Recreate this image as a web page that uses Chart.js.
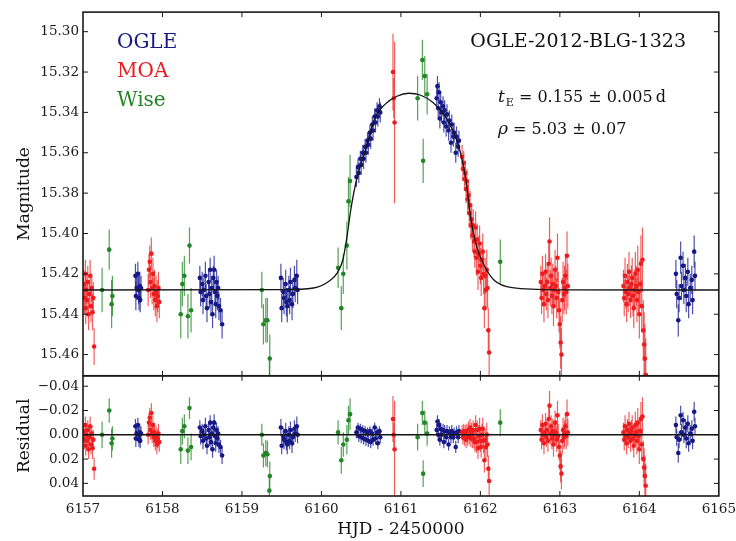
<!DOCTYPE html>
<html>
<head>
<meta charset="utf-8">
<script src="https://cdn.jsdelivr.net/npm/chart.js@4.4.0/dist/chart.umd.min.js"></script>
<style>
  html, body { margin: 0; padding: 0; background: #fff; overflow: hidden; }
  canvas { display: block; }
</style>
</head>
<body>
<canvas id="lc" width="741" height="541" style="width:741px;height:541px"></canvas>
<script>
"use strict";

// OGLE photometry (HJD-2450000, magnitude, error, residual)
const ogleT = [
  6157.66, 6157.665, 6157.675, 6157.69, 6157.70, 6157.705, 6157.715, 6157.72, 6157.73,
  6158.47, 6158.48, 6158.50, 6158.51, 6158.52, 6158.54, 6158.55, 6158.56, 6158.58, 6158.59, 6158.60, 6158.61,
  6158.62, 6158.63, 6158.64, 6158.65, 6158.66, 6158.67, 6158.68, 6158.69, 6158.70, 6158.71, 6158.73, 6158.75,
  6159.49, 6159.50, 6159.52, 6159.53, 6159.55, 6159.56, 6159.57, 6159.59, 6159.60, 6159.61, 6159.63, 6159.64,
  6159.66, 6159.67, 6159.69, 6159.70,
  6160.44, 6160.46, 6160.47, 6160.49, 6160.50, 6160.52, 6160.53, 6160.55, 6160.56, 6160.58, 6160.59, 6160.61,
  6160.62, 6160.64, 6160.65, 6160.67, 6160.68, 6160.70, 6160.71, 6160.73, 6160.74,
  6161.45, 6161.46, 6161.47, 6161.48, 6161.49, 6161.50, 6161.51, 6161.53, 6161.54, 6161.55, 6161.57, 6161.58,
  6161.60, 6161.61, 6161.63, 6161.64, 6161.66, 6161.67, 6161.69, 6161.70, 6161.72, 6161.73,
  6164.46, 6164.47, 6164.49, 6164.50, 6164.52, 6164.53, 6164.55, 6164.56, 6164.58, 6164.59, 6164.61, 6164.62,
  6164.64, 6164.66, 6164.67, 6164.69, 6164.70
];
const ogleMag = [
  15.421, 15.431, 15.427, 15.420, 15.428, 15.432, 15.426, 15.433, 15.427,
  15.422, 15.429, 15.425, 15.433, 15.428, 15.421, 15.431, 15.437, 15.424, 15.430, 15.418, 15.434,
  15.427, 15.440, 15.422, 15.418, 15.429, 15.435, 15.424, 15.431, 15.427, 15.436, 15.438, 15.445,
  15.422, 15.437, 15.429, 15.432, 15.425, 15.434, 15.436, 15.428, 15.433, 15.424, 15.435, 15.430,
  15.423, 15.427, 15.421, 15.428,
  15.372, 15.367, 15.370, 15.363, 15.366, 15.360, 15.363, 15.357, 15.360, 15.354, 15.356, 15.350,
  15.353, 15.346, 15.349, 15.342, 15.345, 15.339, 15.342, 15.337, 15.340,
  15.333, 15.327, 15.338, 15.330, 15.343, 15.335, 15.340, 15.337, 15.345, 15.339, 15.347, 15.341,
  15.349, 15.344, 15.355, 15.346, 15.352, 15.350, 15.360, 15.352, 15.357, 15.354,
  15.420, 15.430, 15.443, 15.432, 15.412, 15.426, 15.416, 15.428, 15.422, 15.431, 15.419, 15.435,
  15.427, 15.423, 15.433, 15.409, 15.421
];
const ogleErr = [
  0.006, 0.007, 0.006, 0.006, 0.007, 0.006, 0.007, 0.006, 0.006,
  0.006, 0.007, 0.006, 0.007, 0.006, 0.007, 0.006, 0.007, 0.006, 0.007, 0.006, 0.007,
  0.006, 0.007, 0.006, 0.007, 0.006, 0.007, 0.006, 0.007, 0.006, 0.007, 0.006, 0.007,
  0.007, 0.007, 0.007, 0.008, 0.007, 0.007, 0.008, 0.007, 0.007, 0.007, 0.008, 0.007,
  0.007, 0.007, 0.008, 0.007,
  0.005, 0.004, 0.005, 0.004, 0.005, 0.004, 0.005, 0.004, 0.005, 0.004, 0.005, 0.004,
  0.005, 0.004, 0.005, 0.004, 0.005, 0.004, 0.005, 0.004, 0.005,
  0.005, 0.005, 0.005, 0.005, 0.005, 0.005, 0.005, 0.005, 0.005, 0.005, 0.005, 0.005,
  0.005, 0.005, 0.005, 0.005, 0.005, 0.005, 0.005, 0.005, 0.005, 0.005,
  0.007, 0.007, 0.008, 0.007, 0.008, 0.007, 0.007, 0.007, 0.007, 0.008, 0.007, 0.007,
  0.007, 0.007, 0.007, 0.008, 0.007
];
const ogleRes = [
  -0.007, 0.003, -0.001, -0.008, 0.000, 0.004, -0.002, 0.005, -0.001,
  -0.006, 0.001, -0.003, 0.005, 0.000, -0.007, 0.003, 0.009, -0.004, 0.002, -0.010, 0.006,
  -0.001, 0.012, -0.006, -0.010, 0.001, 0.007, -0.004, 0.003, -0.001, 0.008, 0.010, 0.017,
  -0.006, 0.009, 0.001, 0.004, -0.003, 0.006, 0.008, 0.000, 0.005, -0.004, 0.007, 0.002,
  -0.005, -0.001, -0.007, 0.000,
  -0.002, -0.006, 0.001, -0.005, 0.002, -0.004, 0.003, -0.003, 0.004, -0.002, 0.005, -0.003,
  0.006, -0.001, 0.004, -0.006, 0.003, -0.002, 0.007, -0.003, 0.002,
  -0.004, -0.011, 0.000, -0.008, 0.004, -0.005, 0.000, -0.004, 0.006, -0.003, 0.002, -0.003,
  0.008, -0.002, 0.002, -0.003, 0.002, -0.001, 0.010, -0.002, 0.002, -0.003,
  -0.008, 0.002, 0.015, 0.004, -0.016, -0.002, -0.012, 0.000, -0.006, 0.003, -0.009, 0.007,
  -0.001, -0.005, 0.005, -0.019, -0.007
];

// MOA photometry
const moaT = [
  6157.01, 6157.02, 6157.03, 6157.035, 6157.04, 6157.05, 6157.06, 6157.07, 6157.08, 6157.09, 6157.10, 6157.11,
  6157.12, 6157.14, 6157.13,
  6157.82, 6157.83, 6157.84, 6157.85, 6157.86, 6157.87, 6157.88, 6157.89, 6157.90, 6157.91, 6157.92, 6157.93,
  6157.94, 6157.95, 6157.96,
  6160.90, 6160.91, 6160.92,
  6161.77, 6161.78, 6161.79, 6161.80, 6161.81, 6161.82, 6161.83, 6161.84, 6161.85, 6161.86, 6161.87, 6161.88,
  6161.89, 6161.90, 6161.91, 6161.92, 6161.93, 6161.94, 6161.95, 6161.96, 6161.97, 6161.98, 6161.99, 6162.00,
  6162.01, 6162.02, 6162.03, 6162.04, 6162.05, 6162.06, 6162.07, 6162.08, 6162.09, 6162.10, 6162.11,
  6162.76, 6162.77, 6162.78, 6162.79, 6162.80, 6162.81, 6162.82, 6162.83, 6162.84, 6162.85, 6162.86, 6162.87,
  6162.88, 6162.89, 6162.90, 6162.91, 6162.92, 6162.93, 6162.94, 6162.95, 6162.96, 6162.97, 6162.98, 6162.99,
  6163.00, 6163.01, 6163.02, 6163.03, 6163.04, 6163.05, 6163.06, 6163.07, 6163.08, 6163.09, 6163.10,
  6163.80, 6163.81, 6163.82, 6163.83, 6163.84, 6163.85, 6163.86, 6163.87, 6163.88, 6163.89, 6163.90, 6163.91,
  6163.92, 6163.93, 6163.94, 6163.95, 6163.96, 6163.97, 6163.98, 6163.99, 6164.00, 6164.01, 6164.02, 6164.03,
  6164.04, 6164.05, 6164.06, 6164.07, 6164.08
];
const moaMag = [
  15.425, 15.432, 15.420, 15.437, 15.428, 15.433, 15.424, 15.440, 15.430, 15.421, 15.436, 15.427,
  15.439, 15.456, 15.432,
  15.428, 15.418, 15.414, 15.424, 15.410, 15.427, 15.420, 15.430, 15.426, 15.433, 15.429, 15.436,
  15.431, 15.427, 15.434,
  15.320, 15.333, 15.345,
  15.362, 15.368, 15.365, 15.373, 15.370, 15.378, 15.374, 15.383, 15.381, 15.390, 15.386, 15.396,
  15.393, 15.401, 15.396, 15.404, 15.409, 15.397, 15.412, 15.403, 15.419, 15.410, 15.405, 15.416,
  15.422, 15.413, 15.409, 15.420, 15.437, 15.421, 15.428, 15.418, 15.427, 15.448, 15.459,
  15.424, 15.432, 15.420, 15.428, 15.435, 15.426, 15.419, 15.430, 15.424, 15.433, 15.415, 15.404,
  15.427, 15.421, 15.431, 15.425, 15.436, 15.428, 15.418, 15.426, 15.432, 15.412, 15.429, 15.438,
  15.445, 15.454, 15.460, 15.433, 15.424, 15.430, 15.427, 15.421, 15.429, 15.411, 15.426,
  15.426, 15.432, 15.421, 15.429, 15.435, 15.424, 15.430, 15.419, 15.427, 15.433, 15.425, 15.422,
  15.431, 15.437, 15.428, 15.420, 15.426, 15.433, 15.418, 15.429, 15.440, 15.425, 15.415, 15.436,
  15.413, 15.448, 15.455, 15.462, 15.470
];
const moaErr = [
  0.007, 0.008, 0.007, 0.008, 0.007, 0.008, 0.008, 0.008, 0.007, 0.008, 0.008, 0.007,
  0.009, 0.009, 0.008,
  0.008, 0.008, 0.008, 0.008, 0.008, 0.008, 0.008, 0.008, 0.008, 0.008, 0.008, 0.008,
  0.008, 0.008, 0.008,
  0.019, 0.010, 0.040,
  0.006, 0.006, 0.006, 0.006, 0.006, 0.007, 0.006, 0.007, 0.007, 0.007, 0.007, 0.007,
  0.008, 0.008, 0.008, 0.008, 0.008, 0.008, 0.009, 0.008, 0.009, 0.009, 0.009, 0.009,
  0.009, 0.009, 0.009, 0.010, 0.010, 0.009, 0.010, 0.010, 0.010, 0.011, 0.012,
  0.008, 0.008, 0.009, 0.008, 0.009, 0.008, 0.009, 0.008, 0.009, 0.009, 0.010, 0.012,
  0.009, 0.009, 0.009, 0.010, 0.010, 0.009, 0.010, 0.010, 0.010, 0.012, 0.010, 0.011,
  0.012, 0.013, 0.013, 0.011, 0.010, 0.010, 0.011, 0.011, 0.011, 0.012, 0.011,
  0.008, 0.009, 0.009, 0.008, 0.009, 0.009, 0.009, 0.010, 0.009, 0.009, 0.009, 0.010,
  0.010, 0.010, 0.010, 0.011, 0.010, 0.011, 0.012, 0.011, 0.012, 0.012, 0.014, 0.013,
  0.016, 0.015, 0.016, 0.017, 0.018
];
const moaRes = [
  -0.003, 0.004, -0.008, 0.009, 0.000, 0.005, -0.004, 0.012, 0.002, -0.007, 0.008, -0.001,
  0.011, 0.028, 0.004,
  0.000, -0.010, -0.014, -0.004, -0.018, -0.001, -0.008, 0.002, -0.002, 0.005, 0.001, 0.008,
  0.003, -0.001, 0.006,
  -0.013, 0.000, 0.012,
  -0.002, 0.002, -0.003, 0.003, -0.002, 0.004, -0.003, 0.002, -0.004, 0.001, -0.006, 0.003,
  -0.002, 0.003, -0.004, 0.003, 0.006, -0.008, 0.006, -0.004, 0.011, 0.001, -0.005, 0.005,
  0.010, 0.000, -0.005, 0.005, 0.021, 0.004, 0.010, 0.000, 0.008, 0.028, 0.038,
  -0.004, 0.004, -0.008, 0.000, 0.007, -0.002, -0.009, 0.002, -0.004, 0.005, -0.013, -0.024,
  -0.001, -0.007, 0.003, -0.003, 0.008, 0.000, -0.010, -0.002, 0.004, -0.016, 0.001, 0.010,
  0.017, 0.026, 0.032, 0.005, -0.004, 0.002, -0.001, -0.007, 0.001, -0.017, -0.002,
  -0.002, 0.004, -0.007, 0.001, 0.007, -0.004, 0.002, -0.009, -0.001, 0.005, -0.003, -0.006,
  0.003, 0.009, 0.000, -0.008, -0.002, 0.005, -0.010, 0.001, 0.012, -0.003, -0.013, 0.008,
  -0.015, 0.020, 0.027, 0.034, 0.042
];

// Wise photometry
const wiseT = [
  6157.24, 6157.33, 6157.36, 6157.37,
  6158.23, 6158.25, 6158.275, 6158.32, 6158.34, 6158.36,
  6159.25, 6159.27, 6159.30, 6159.32, 6159.345, 6159.35,
  6160.21, 6160.25, 6160.275, 6160.32, 6160.34, 6160.36,
  6161.21, 6161.27, 6161.28, 6161.30, 6161.33,
  6162.25
];
const wiseMag = [
  15.428, 15.408, 15.435, 15.431,
  15.440, 15.425, 15.421, 15.441, 15.406, 15.438,
  15.428, 15.445, 15.443, 15.443, 15.474, 15.462,
  15.417, 15.437, 15.420, 15.406, 15.384, 15.374,
  15.333, 15.314, 15.364, 15.322, 15.331,
  15.414
];
const wiseErr = [
  0.011, 0.010, 0.012, 0.010,
  0.012, 0.011, 0.010, 0.011, 0.009, 0.011,
  0.009, 0.010, 0.011, 0.011, 0.011, 0.012,
  0.010, 0.011, 0.010, 0.012, 0.012, 0.013,
  0.011, 0.010, 0.011, 0.010, 0.010,
  0.011
];
const wiseRes = [
  0.000, -0.020, 0.007, 0.003,
  0.012, -0.003, -0.007, 0.013, -0.022, 0.010,
  0.000, 0.017, 0.015, 0.016, 0.046, 0.034,
  -0.002, 0.021, 0.008, 0.004, -0.012, -0.017,
  0.002, -0.018, 0.032, -0.010, -0.001,
  -0.010
];

// best-fit model curve
const modelT = [6157.0, 6159.5, 6159.9, 6160.1, 6160.2, 6160.27, 6160.32, 6160.37, 6160.45, 6160.55,
  6160.67, 6160.8, 6160.95, 6161.1, 6161.25, 6161.4, 6161.55, 6161.67, 6161.75, 6161.82, 6161.88,
  6161.95, 6162.05, 6162.17, 6162.4, 6163.0, 6165.0];
const modelMag = [15.428, 15.4278, 15.427, 15.4235, 15.4195, 15.413, 15.402, 15.388, 15.372, 15.3595,
  15.343, 15.336, 15.332, 15.3305, 15.3315, 15.335, 15.3415, 15.3505, 15.360, 15.374, 15.393,
  15.406, 15.416, 15.423, 15.4268, 15.4279, 15.428];
const zeroT = [6157, 6165];
const zeroRes = [0, 0];

const xTicks = [6157, 6158, 6159, 6160, 6161, 6162, 6163, 6164, 6165];

const NAVY = "rgb(22,24,132)";
const RED = "rgb(238,28,30)";
const GREEN = "rgb(34,134,38)";
const SERIF = "'DejaVu Serif', serif";

function pts(t, v) {
  return t.map((x, i) => ({ x: x, y: v[i] }));
}

function scatterSet(t, v, e, color, bar, axis) {
  return {
    type: "scatter",
    data: pts(t, v),
    err: e,
    barColor: bar,
    yAxisID: axis,
    backgroundColor: color,
    borderWidth: 0,
    pointRadius: 2.3,
    pointHoverRadius: 2.3,
    order: 2
  };
}

function lineSet(t, v, axis, width) {
  return {
    type: "line",
    data: pts(t, v),
    yAxisID: axis,
    borderColor: "#151515",
    borderWidth: width,
    pointRadius: 0,
    fill: false,
    cubicInterpolationMode: "monotone",
    order: 0
  };
}

// clip each dataset to its own panel and draw its error bars
const panels = {
  id: "panels",
  beforeDatasetDraw(chart, args) {
    const ds = chart.data.datasets[args.index];
    const xs = chart.scales.x;
    const ys = chart.scales[ds.yAxisID];
    const a = chart.chartArea;
    const ctx = chart.ctx;
    ctx.save();
    ctx.beginPath();
    ctx.rect(a.left, ys.top, a.right - a.left, ys.bottom - ys.top);
    ctx.clip();
    if (ds.err) {
      ctx.strokeStyle = ds.barColor;
      ctx.lineWidth = 1.2;
      ds.data.forEach((p, i) => {
        const px = xs.getPixelForValue(p.x);
        ctx.beginPath();
        ctx.moveTo(px, ys.getPixelForValue(p.y - ds.err[i]));
        ctx.lineTo(px, ys.getPixelForValue(p.y + ds.err[i]));
        ctx.stroke();
      });
    }
  },
  afterDatasetDraw(chart) {
    chart.ctx.restore();
  },
  afterDraw(chart) {
    const ctx = chart.ctx;
    const a = chart.chartArea;
    const xs = chart.scales.x;
    ctx.save();
    ["y", "yr"].forEach(id => {
      const s = chart.scales[id];
      ctx.strokeStyle = "#1a1a1a";
      ctx.lineWidth = 1;
      s.ticks.forEach(t => {
        const py = s.getPixelForValue(t.value);
        ctx.beginPath();
        ctx.moveTo(a.left, py); ctx.lineTo(a.left + 5, py);
        ctx.moveTo(a.right, py); ctx.lineTo(a.right - 5, py);
        ctx.stroke();
      });
      xs.ticks.forEach(t => {
        if (t.value <= xs.min || t.value >= xs.max) return;
        const px = xs.getPixelForValue(t.value);
        ctx.beginPath();
        ctx.moveTo(px, s.top); ctx.lineTo(px, s.top + 5);
        ctx.moveTo(px, s.bottom); ctx.lineTo(px, s.bottom - 5);
        ctx.stroke();
      });
      ctx.lineWidth = 1.6;
      ctx.strokeRect(a.left, s.top, a.right - a.left, s.bottom - s.top);
    });

    ctx.textBaseline = "alphabetic";
    ctx.textAlign = "left";
    ctx.font = "20px " + SERIF;
    ctx.fillStyle = NAVY; ctx.fillText("OGLE", 117, 48);
    ctx.fillStyle = RED; ctx.fillText("MOA", 117, 77);
    ctx.fillStyle = GREEN; ctx.fillText("Wise", 117, 106);

    ctx.fillStyle = "#111";
    ctx.font = "19px " + SERIF;
    ctx.textAlign = "right";
    ctx.fillText("OGLE-2012-BLG-1323", 686, 47);

    ctx.textAlign = "left";
    let x = 498;
    ctx.font = "italic 17px " + SERIF;
    ctx.fillText("t", x, 102);
    x += ctx.measureText("t").width + 1;
    ctx.font = "11px " + SERIF;
    ctx.fillText("E", x, 106);
    x += ctx.measureText("E").width;
    ctx.font = "16px " + SERIF;
    ctx.fillText(" = 0.155 \u00b1 0.005\u2009d", x, 102);

    x = 498;
    ctx.font = "italic 17px " + SERIF;
    ctx.fillText("\u03c1", x, 134);
    x += ctx.measureText("\u03c1").width;
    ctx.font = "16px " + SERIF;
    ctx.fillText(" = 5.03 \u00b1 0.07", x, 134);
    ctx.restore();
  }
};

const tickFont = { family: SERIF, size: 13.5 };
const titleFont = { family: SERIF, size: 17 };

new Chart(document.getElementById("lc"), {
  type: "scatter",
  data: {
    datasets: [
      lineSet(modelT, modelMag, "y", 1.3),
      lineSet(zeroT, zeroRes, "yr", 1.5),
      scatterSet(moaT, moaMag, moaErr, RED, "rgba(238,40,40,0.75)", "y"),
      scatterSet(ogleT, ogleMag, ogleErr, NAVY, "rgba(30,34,150,0.8)", "y"),
      scatterSet(wiseT, wiseMag, wiseErr, GREEN, "rgba(40,140,44,0.8)", "y"),
      scatterSet(moaT, moaRes, moaErr, RED, "rgba(238,40,40,0.75)", "yr"),
      scatterSet(ogleT, ogleRes, ogleErr, NAVY, "rgba(30,34,150,0.8)", "yr"),
      scatterSet(wiseT, wiseRes, wiseErr, GREEN, "rgba(40,140,44,0.8)", "yr")
    ]
  },
  options: {
    responsive: false,
    animation: false,
    devicePixelRatio: 1,
    layout: { padding: { left: 0, top: 11, right: 19, bottom: 0 } },
    plugins: { legend: { display: false }, tooltip: { enabled: false } },
    scales: {
      x: {
        type: "linear",
        position: "bottom",
        min: 6157,
        max: 6165,
        afterBuildTicks: s => { s.ticks = xTicks.map(v => ({ value: v })); },
        afterFit: s => { s.height = 45; },
        grid: { display: false, drawTicks: false },
        border: { display: false },
        ticks: { font: tickFont, color: "#1a1a1a", padding: 5, maxRotation: 0, autoSkip: false,
                 callback: v => String(v) },
        title: { display: true, text: "HJD - 2450000", font: titleFont, color: "#111",
                 padding: { top: 0, bottom: 1 } }
      },
      yr: {
        type: "linear",
        position: "left",
        stack: "panels",
        stackWeight: 120.5,
        reverse: true,
        min: -0.0486,
        max: 0.0504,
        afterFit: s => { s.width = 83; },
        grid: { display: false, drawTicks: false },
        border: { display: false },
        ticks: { stepSize: 0.02, includeBounds: false, autoSkip: false, font: tickFont, color: "#1a1a1a",
                 padding: 4, callback: v => (v < -1e-9 ? "\u2212" : "") + Math.abs(v).toFixed(2) },
        title: { display: true, text: "Residual", font: titleFont, color: "#111",
                 padding: { top: 14, bottom: 0 } }
      },
      y: {
        type: "linear",
        position: "left",
        stack: "panels",
        stackWeight: 364.5,
        reverse: true,
        min: 15.2903,
        max: 15.4705,
        afterFit: s => { s.width = 83; },
        grid: { display: false, drawTicks: false },
        border: { display: false },
        ticks: { stepSize: 0.02, includeBounds: false, autoSkip: false, font: tickFont, color: "#1a1a1a",
                 padding: 4, callback: v => v.toFixed(2) },
        title: { display: true, text: "Magnitude", font: titleFont, color: "#111",
                 padding: { top: 14, bottom: 0 } }
      }
    }
  },
  plugins: [panels]
});
</script>
</body>
</html>
